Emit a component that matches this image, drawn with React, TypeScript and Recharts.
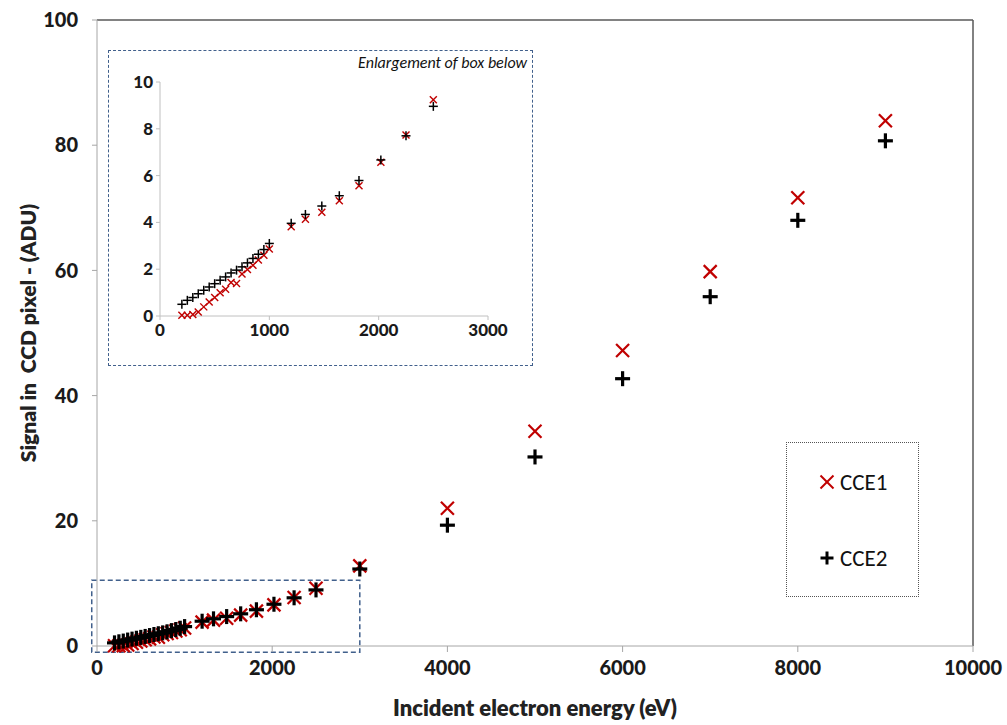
import { ScatterChart, Scatter, XAxis, YAxis, ReferenceArea, ReferenceLine, Legend, Label } from 'recharts';

// incident electron energy (eV) for every measurement
const energy = [
  200, 250, 300, 350, 400, 450, 500, 550, 600, 650, 700, 750, 800, 850, 900, 950, 1000,
  1200, 1330, 1480, 1640, 1820, 2020, 2250, 2500, 3000, 4000, 5000, 6000, 7000, 8000, 9000,
];

// signal per CCD pixel (ADU)
const cce1 = [
  0.03, 0.03, 0.06, 0.17, 0.39, 0.6, 0.79, 0.99, 1.14, 1.43, 1.39, 1.79, 1.99, 2.17, 2.39, 2.6, 2.86,
  3.81, 4.13, 4.43, 4.93, 5.57, 6.57, 7.74, 9.24, 12.8, 22.0, 34.3, 47.2, 59.8, 71.6, 83.9,
];
const cce2 = [
  0.5, 0.67, 0.79, 0.95, 1.1, 1.24, 1.38, 1.53, 1.67, 1.84, 1.96, 2.1, 2.27, 2.46, 2.64, 2.84, 3.1,
  3.96, 4.34, 4.7, 5.14, 5.79, 6.67, 7.7, 8.96, 12.3, 19.3, 30.2, 42.7, 55.8, 68.0, 80.7,
];

const mainXTicks = [0, 2000, 4000, 6000, 8000, 10000];
const mainYTicks = [0, 20, 40, 60, 80, 100];
const insetXTicks = [0, 1000, 2000, 3000];
const insetYTicks = [0, 2, 4, 6, 8, 10];

// zoom box drawn on the main chart, shown enlarged in the inset
const zoomBoxX = [-60, 3000];
const zoomBoxY = [-1, 10.5];
const insetMaxEnergy = 2500;

const RED = '#c00000';
const FONT = 'Lato, "Open Sans", sans-serif';
const TEXT_FONT = 'Carlito, Lato, sans-serif';
const AXIS_GREY = '#a6a6a6';
const FRAME = '#595959';

const cce1Data = energy.map((e, i) => ({ energy: e, signal: cce1[i] }));
const cce2Data = energy.map((e, i) => ({ energy: e, signal: cce2[i] }));
const cce1Inset = cce1Data.filter((d) => d.energy <= insetMaxEnergy);
const cce2Inset = cce2Data.filter((d) => d.energy <= insetMaxEnergy);

function Cross({ cx, cy, size, width }: { cx: number; cy: number; size: number; width: number }) {
  const h = size / 2;
  return (
    <g stroke={RED} strokeWidth={width}>
      <line x1={cx - h} y1={cy - h} x2={cx + h} y2={cy + h} />
      <line x1={cx - h} y1={cy + h} x2={cx + h} y2={cy - h} />
    </g>
  );
}

function Plus({ cx, cy, size, width }: { cx: number; cy: number; size: number; width: number }) {
  const h = size / 2;
  return (
    <g stroke="#000" strokeWidth={width}>
      <line x1={cx - h} y1={cy} x2={cx + h} y2={cy} />
      <line x1={cx} y1={cy - h} x2={cx} y2={cy + h} />
    </g>
  );
}

function LegendBox({ payload }: any) {
  const items = payload ?? [];
  return (
    <div
      style={{
        position: 'relative',
        width: 133,
        height: 155,
        boxSizing: 'border-box',
        border: '1px dotted #555',
      }}
    >
      {items.map((item: any, i: number) => (
        <div
          key={item.value}
          style={{ position: 'absolute', left: 30, top: 24 + i * 76, display: 'flex', alignItems: 'center', height: 30 }}
        >
          <svg width={20} height={20} style={{ marginRight: 3 }}>
            {i === 0 ? <Cross cx={10} cy={10} size={13} width={2} /> : <Plus cx={10} cy={10} size={13} width={3} />}
          </svg>
          <span style={{ fontFamily: TEXT_FONT, fontSize: 23, color: '#111' }}>{item.value}</span>
        </div>
      ))}
    </div>
  );
}

function YTitle({ viewBox }: any) {
  const x = 27;
  const y = viewBox.y + viewBox.height / 2;
  return (
    <text
      x={x}
      y={y}
      transform={`rotate(-90 ${x} ${y})`}
      textAnchor="middle"
      dominantBaseline="central"
      fontFamily={FONT}
      fontWeight={800}
      fontSize={21}
      fill="#222"
      style={{ whiteSpace: 'pre' }}
    >
      {'Signal in  CCD pixel - (ADU)'}
    </text>
  );
}

const mainTick = { fontFamily: FONT, fontWeight: 900, fontSize: 20, fill: '#1a1a1a' };
const insetTick = { fontFamily: FONT, fontWeight: 900, fontSize: 17, fill: '#1a1a1a' };

export default function App() {
  return (
    <div style={{ position: 'absolute', left: 0, top: 0, width: 1007, height: 725, background: '#fff' }}>
      <ScatterChart width={1007} height={725} margin={{ top: 20, right: 34, bottom: 0, left: 0 }}>
        <XAxis
          type="number"
          dataKey="energy"
          domain={[0, 10000]}
          ticks={mainXTicks}
          height={79}
          stroke={AXIS_GREY}
          tickSize={6}
          tickMargin={9}
          tick={mainTick}
          interval={0}
        >
          <Label
            value="Incident electron energy (eV)"
            position="insideBottom"
            offset={9}
            style={{ fontFamily: FONT, fontWeight: 800, fontSize: 22, fill: '#222' }}
          />
        </XAxis>
        <YAxis
          type="number"
          dataKey="signal"
          domain={[0, 100]}
          ticks={mainYTicks}
          width={97}
          stroke={AXIS_GREY}
          tickSize={5}
          tickMargin={14}
          tick={mainTick}
          interval={0}
        >
          <Label content={<YTitle />} />
        </YAxis>
        {/* plot frame, top and right */}
        <ReferenceLine y={100} stroke={FRAME} strokeWidth={1.5} ifOverflow="visible" />
        <ReferenceLine x={10000} stroke={FRAME} strokeWidth={1.5} ifOverflow="visible" />
        <ReferenceArea
          x1={zoomBoxX[0]}
          x2={zoomBoxX[1]}
          y1={zoomBoxY[0]}
          y2={zoomBoxY[1]}
          fill="none"
          stroke="#41608c"
          strokeWidth={1.5}
          strokeDasharray="5 3"
          ifOverflow="visible"
        />
        <Scatter
          name="CCE1"
          data={cce1Data}
          fill={RED}
          isAnimationActive={false}
          shape={(p: any) => <Cross cx={p.cx} cy={p.cy} size={13} width={2.2} />}
        />
        <Scatter
          name="CCE2"
          data={cce2Data}
          fill="#000"
          isAnimationActive={false}
          shape={(p: any) => <Plus cx={p.cx} cy={p.cy} size={15} width={3.2} />}
        />
        <Legend
          layout="horizontal"
          verticalAlign="middle"
          align="center"
          content={<LegendBox />}
          wrapperStyle={{ left: 786, top: 442, width: 133, height: 155 }}
        />
      </ScatterChart>

      {/* enlargement of the low-energy region */}
      <div
        style={{
          position: 'absolute',
          left: 108,
          top: 50,
          width: 425,
          height: 316,
          boxSizing: 'border-box',
          border: '1.5px dashed #41608c',
          background: '#fff',
        }}
      />
      <div
        style={{
          position: 'absolute',
          left: 108,
          top: 53,
          width: 419,
          textAlign: 'right',
          fontFamily: TEXT_FONT,
          fontStyle: 'italic',
          fontSize: 16,
          color: '#111',
        }}
      >
        Enlargement of box below
      </div>
      <div style={{ position: 'absolute', left: 108, top: 50 }}>
        <ScatterChart width={424} height={315} margin={{ top: 32, right: 44, bottom: 0, left: 0 }}>
          <XAxis
            type="number"
            dataKey="energy"
            domain={[0, 3000]}
            ticks={insetXTicks}
            height={49}
            stroke="#c0c0c0"
            tickSize={4}
            tickMargin={4}
            tick={insetTick}
            interval={0}
          />
          <YAxis
            type="number"
            dataKey="signal"
            domain={[0, 10]}
            ticks={insetYTicks}
            width={52}
            stroke="#c0c0c0"
            tickSize={4}
            tickMargin={3}
            tick={insetTick}
            interval={0}
          />
          <Scatter
            name="CCE1"
            data={cce1Inset}
            fill={RED}
            isAnimationActive={false}
            shape={(p: any) => <Cross cx={p.cx} cy={p.cy} size={7} width={1.4} />}
          />
          <Scatter
            name="CCE2"
            data={cce2Inset}
            fill="#000"
            isAnimationActive={false}
            shape={(p: any) => <Plus cx={p.cx} cy={p.cy} size={9} width={1.5} />}
          />
        </ScatterChart>
      </div>
    </div>
  );
}
